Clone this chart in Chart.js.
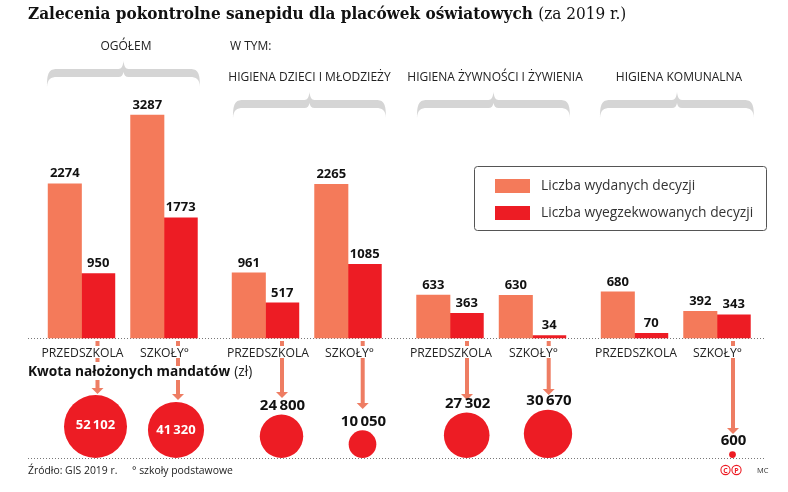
<!DOCTYPE html>
<html lang="pl"><head><meta charset="utf-8">
<style>html,body{margin:0;padding:0;background:#fff}canvas{display:block}</style>
<script src="https://cdn.jsdelivr.net/npm/chart.js@4"></script></head>
<body><canvas id="c" width="788" height="492"></canvas>
<script>
// ---- data ----
const categories = ["PRZEDSZKOLA","SZKOŁY°","PRZEDSZKOLA","SZKOŁY°","PRZEDSZKOLA","SZKOŁY°","PRZEDSZKOLA","SZKOŁY°"];
const issuedDecisions = [2274,3287,961,2265,633,630,680,392];
const enforcedDecisions = [950,1773,517,1085,363,34,70,343];
const fines = [52102,41320,24800,10050,27302,30670,null,600];
const seriesNames = ["Liczba wydanych decyzji","Liczba wyegzekwowanych decyzji"];
const groupNames = ["OGÓŁEM","HIGIENA DZIECI I MŁODZIEŻY","HIGIENA ŻYWNOŚCI I ŻYWIENIA","HIGIENA KOMUNALNA"];

// ---- layout (x scale and fine scale are in canvas pixels) ----
const W=788,H=492,BASE=338,BASE2=458,PXU=223/3287;
const pairX=[81.5,164,265.5,348,450,532.5,634.5,717];
const labelX=[82.5,164.5,268,349.5,451,533.5,636,717.5];
const fineX=[95.5,176,281.5,362.5,466.7,548,null,732.5];
const arrowX=[97.5,178,282,362.7,467,548.7,null,733];
const arrowTip=[394,400,398,409,400,395,null,434];
const arrowGaps=[[[346,358],[362,380]],[[346,358],[366,380]],[[346,358]],[[346,358]],[[346,358]],[[346,358]],null,[[346,358]]];
const MAXR=31.5;
const ORANGE="#F47A5A",RED="#ED1C24",ARROW="#EE7D63",SANS='"Open Sans"',GREY="#D5D5D5";
const radius=v=>MAXR*Math.sqrt(v/fines[0]);
const fmt=v=>String(v).replace(/\B(?=(\d{3})+$)/g,"\u2009");

function text(ctx,s,x,y,font,color,align){ctx.font=font;ctx.fillStyle=color;ctx.textAlign=align||"left";ctx.textBaseline="middle";ctx.fillText(s,x,y);}
function brace(ctx,x0,x1,tip){
  const c=(x0+x1)/2,t=tip+8,b=tip+16,e=tip+26;
  ctx.beginPath();ctx.moveTo(x0,e);
  ctx.bezierCurveTo(x0,t+4,x0+2,t,x0+10,t);
  ctx.lineTo(c-5,t);ctx.bezierCurveTo(c-2,t,c-.5,t-3,c,tip);
  ctx.bezierCurveTo(c+.5,t-3,c+2,t,c+5,t);
  ctx.lineTo(x1-10,t);ctx.bezierCurveTo(x1-2,t,x1,t+4,x1,e);
  ctx.bezierCurveTo(x1-.5,b+2,x1-4,b,x1-10,b);
  ctx.lineTo(c+5,b);ctx.bezierCurveTo(c+2,b,c+.5,b-2,c,b-5);
  ctx.bezierCurveTo(c-.5,b-2,c-2,b,c-5,b);
  ctx.lineTo(x0+10,b);ctx.bezierCurveTo(x0+4,b,x0+.5,b+2,x0,e);
  ctx.closePath();ctx.fillStyle=GREY;ctx.fill();
}
function dotted(ctx,y){ctx.save();ctx.strokeStyle="#777";ctx.lineWidth=1;ctx.setLineDash([1,2]);ctx.beginPath();ctx.moveTo(28,y+.5);ctx.lineTo(765,y+.5);ctx.stroke();ctx.restore();}

const decor={id:"decor",
 beforeDraw(chart){
  const ctx=chart.ctx;ctx.save();
  arrowX.forEach((x,i)=>{ if(x==null)return;
    const tip=arrowTip[i];let y=341;ctx.fillStyle=ARROW;
    const segs=arrowGaps[i];
    segs.forEach(g=>{ctx.fillRect(x-2,y,4,g[0]-y);y=g[1];});
    ctx.fillRect(x-2,y,4,tip-6-y);
    ctx.beginPath();ctx.moveTo(x-6,tip-6);ctx.lineTo(x+6,tip-6);ctx.lineTo(x,tip);ctx.closePath();ctx.fill();
  });
  dotted(ctx,BASE);dotted(ctx,BASE2);
  ctx.restore();
 },
 afterDraw(chart){
  const ctx=chart.ctx;ctx.save();
  // title
  const tf='17px "DejaVu Serif Condensed"';
  ctx.font='bold '+tf;
  const tt="Zalecenia pokontrolne sanepidu dla placówek oświatowych ";
  text(ctx,tt,28,15,'bold '+tf,"#111");
  const w=ctx.measureText(tt).width;
  text(ctx,"(za 2019 r.)",28+w,15,tf,"#111");
  // group heads
  const f='12px '+SANS;
  text(ctx,groupNames[0],126,47,f,"#222","center");
  text(ctx,"W TYM:",230,47,f,"#222");
  text(ctx,groupNames[1],309.5,78,f,"#222","center");
  text(ctx,groupNames[2],495,78,f,"#222","center");
  text(ctx,groupNames[3],679,78,f,"#222","center");
  brace(ctx,47,200,61);brace(ctx,233,386,92);brace(ctx,417,570,92);brace(ctx,600,754,92);
  // bar values
  [issuedDecisions,enforcedDecisions].forEach((arr,d)=>{
    const m=chart.getDatasetMeta(d);
    arr.forEach((v,i)=>{const el=m.data[i];text(ctx,String(v),el.x,el.y-10,'bold 13px '+SANS,"#111","center");});
  });
  // legend
  ctx.beginPath();ctx.roundRect(474.5,166.5,292,64,3);ctx.strokeStyle="#555";ctx.lineWidth=1;ctx.stroke();
  ctx.fillStyle=ORANGE;ctx.fillRect(495,179,35,14);
  ctx.fillStyle=RED;ctx.fillRect(495,206,35,14);
  text(ctx,seriesNames[0],541,186,'13.8px '+SANS,"#333");
  text(ctx,seriesNames[1],541,213,'13.8px '+SANS,"#333");
  // fines heading
  const bf='bold 13.7px '+SANS,hd="Kwota nałożonych mandatów";
  text(ctx,hd,28,372,bf,"#111");ctx.font=bf;
  text(ctx,"(zł)",28+ctx.measureText(hd).width+4,372,'13.7px '+SANS,"#222");
  // fine values
  fines.forEach((v,i)=>{ if(v==null)return;
    const r=radius(v),x=fineX[i];
    if(i<2) text(ctx,fmt(v),x,BASE2-r-(i?0:1),'bold 13px '+SANS,"#fff","center");
    else text(ctx,fmt(v),x+1,BASE2-2*r-(i==7?11:8.5),'bold 15px '+SANS,"#111","center");
  });
  // footer
  text(ctx,"Źródło: GIS 2019 r.",28,471,'10.4px '+SANS,"#222");
  text(ctx,"° szkoły podstawowe",132,471,'10.4px '+SANS,"#222");
  text(ctx,"MC",757,471,'7.5px '+SANS,"#333");
  [["C",725.5],["P",736.5]].forEach(([s,x])=>{
    ctx.beginPath();ctx.arc(x,470,4.6,0,7);ctx.strokeStyle=RED;ctx.lineWidth=1.1;ctx.stroke();
    text(ctx,s,x,470.5,'bold 7px '+SANS,RED,"center");
  });
  ctx.restore();
 }};

new Chart(document.getElementById("c"),{
 type:"bar",
 data:{datasets:[
  {label:seriesNames[0],data:issuedDecisions.map((v,i)=>({x:pairX[i],y:v})),backgroundColor:ORANGE,barThickness:33.4,xAxisID:"x",yAxisID:"y",order:2},
  {label:seriesNames[1],data:enforcedDecisions.map((v,i)=>({x:pairX[i],y:v})),backgroundColor:RED,barThickness:33.4,xAxisID:"x",yAxisID:"y",order:2},
  {type:"bubble",label:"Kwota nałożonych mandatów (zł)",
   data:fines.map((v,i)=>v==null?null:({x:fineX[i],y:radius(v),r:radius(v)})).filter(Boolean),
   backgroundColor:RED,borderWidth:0,xAxisID:"x",yAxisID:"yFine",order:1}
 ]},
 options:{responsive:false,animation:false,devicePixelRatio:1,
  layout:{padding:0,autoPadding:false},
  plugins:{legend:{display:false},title:{display:false},tooltip:{enabled:false}},
  events:[],
  scales:{
   x:{type:"linear",min:0,max:W,offset:false,position:{y:0},
      grid:{display:false},border:{display:false},
      afterBuildTicks(s){s.ticks=labelX.map(value=>({value}));},
      afterFit(s){s.height=0;s.paddingLeft=0;s.paddingRight=0;s.paddingTop=0;s.paddingBottom=0;},
      ticks:{autoSkip:false,maxRotation:0,padding:0,color:"#222",font:{family:"Open Sans",size:12.2},
             callback:(v,i)=>categories[i]}},
   y:{display:false,min:-(H-BASE)/PXU,max:BASE/PXU},
   yFine:{display:false,min:-(H-BASE2),max:BASE2}
  }},
 plugins:[decor]
});
</script></body></html>
